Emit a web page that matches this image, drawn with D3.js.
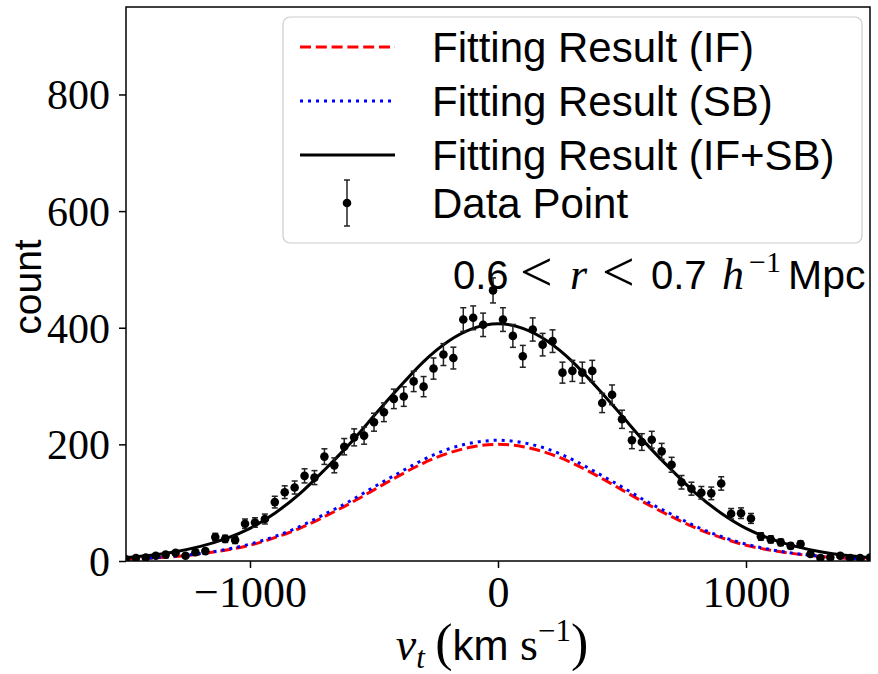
<!DOCTYPE html>
<html><head><meta charset="utf-8">
<script src="https://cdn.jsdelivr.net/npm/d3@7"></script>
<style>body{margin:0;background:#fff}</style>
</head><body>
<svg id="c" width="878" height="674"></svg>
<script>
// ---- data ----
const binCenters = [-1500,-1460,-1420,-1380,-1340,-1300,-1260,-1220,-1180,-1140,-1100,-1060,-1020,-980,-940,-900,-860,-820,-780,-740,-700,-660,-620,-580,-540,-500,-460,-420,-380,-340,-300,-260,-220,-180,-140,-100,-60,-20,20,60,100,140,180,220,260,300,340,380,420,460,500,540,580,620,660,700,740,780,820,860,900,940,980,1020,1060,1100,1140,1180,1220,1260,1300,1340,1380,1420,1460,1500];
const counts = [3,5,6,9,11,14,9,15,17,41,38,36,64,66,72,101,118,126,146,143,179,164,196,212,215,238,255,278,282,308,299,330,354,348,414,417,405,464,414,386,351,397,371,377,323,326,323,326,271,285,243,207,204,208,188,165,135,124,117,116,133,81,82,73,42,37,32,26,29,12,5,6,9,5,5,6];
const errors = [1.7,2.2,2.4,3.0,3.3,3.7,3.0,3.9,4.1,6.4,6.2,6.0,8.0,8.1,8.5,10.0,10.9,11.2,12.1,12.0,13.4,12.8,14.0,14.6,14.7,15.4,16.0,16.7,16.8,17.5,17.3,18.2,18.8,18.7,20.3,20.4,20.1,21.5,20.3,19.6,18.7,19.9,19.3,19.4,18.0,18.1,18.0,18.1,16.5,16.9,15.6,14.4,14.3,14.4,13.7,12.8,11.6,11.1,10.8,10.8,11.5,9.0,9.1,8.5,6.5,6.1,5.7,5.1,5.4,3.5,2.2,2.4,3.0,2.2,2.2,2.4];
const fitX = [-1500,-1400,-1300,-1200,-1100,-1000,-900,-800,-700,-600,-500,-400,-300,-200,-100,0,100,200,300,400,500,600,700,800,900,1000,1100,1200,1300,1400,1500];
const fitIF = [2.9,4.8,7.8,12.2,18.5,27,40,56,76,98,122,146,168,185,196,200,196,185,168,146,122,98,76,56,40,27,18.5,12.2,7.8,4.8,2.9];
const fitSB = [3.1,5.2,8.2,12.8,19.5,29,42,59,80,102,127,151,174,192,203,207,203,192,174,151,127,102,80,59,42,29,19.5,12.8,8.2,5.2,3.1];
const fitTotal = [6,10,16,25,38,56,82,115,156,200,249,297,342,377,399,407,399,377,342,297,249,200,156,115,82,56,38,25,16,10,6];
const xTicks = [-1000, 0, 1000];
const yTicks = [0, 200, 400, 600, 800];
const legendLabels = ["Fitting Result (IF)", "Fitting Result (SB)", "Fitting Result (IF+SB)", "Data Point"];

// ---- layout ----
const L = 126, R = 870, T = 7, B = 561;
const serif = "'Liberation Serif','DejaVu Serif',serif";
const sans = "'Liberation Sans','DejaVu Sans',sans-serif";
const svg = d3.select("#c");
const x = d3.scaleLinear().domain([-1500, 1500]).range([L, R]);
const y = d3.scaleLinear().domain([0, 950]).range([B, T]);

svg.append("defs").append("clipPath").attr("id", "clip")
  .append("rect").attr("x", L).attr("y", T).attr("width", R - L).attr("height", B - T);

const plot = svg.append("g").attr("clip-path", "url(#clip)");

const line = d3.line().x(d => x(d[0])).y(d => y(d[1])).curve(d3.curveNatural);
plot.append("path").datum(fitX.map((v, i) => [v, fitIF[i]]))
  .attr("d", line).attr("fill", "none").attr("stroke", "#ff0000")
  .attr("stroke-width", 3).attr("stroke-dasharray", "11,4.8");
plot.append("path").datum(fitX.map((v, i) => [v, fitSB[i]]))
  .attr("d", line).attr("fill", "none").attr("stroke", "#0000ff")
  .attr("stroke-width", 3).attr("stroke-dasharray", "3,5");
plot.append("path").datum(fitX.map((v, i) => [v, fitTotal[i]]))
  .attr("d", line).attr("fill", "none").attr("stroke", "#000")
  .attr("stroke-width", 3);

// error bars + points
const pts = binCenters.map((v, i) => ({x: v, c: counts[i], e: errors[i]}));
const eb = plot.append("g").attr("stroke", "#222").attr("stroke-width", 1.5);
pts.forEach(p => {
  eb.append("line").attr("x1", x(p.x)).attr("x2", x(p.x)).attr("y1", y(p.c - p.e)).attr("y2", y(p.c + p.e));
  eb.append("line").attr("x1", x(p.x) - 3).attr("x2", x(p.x) + 3).attr("y1", y(p.c - p.e)).attr("y2", y(p.c - p.e));
  eb.append("line").attr("x1", x(p.x) - 3).attr("x2", x(p.x) + 3).attr("y1", y(p.c + p.e)).attr("y2", y(p.c + p.e));
});
plot.append("g").selectAll("circle").data(pts).join("circle")
  .attr("cx", d => x(d.x)).attr("cy", d => y(d.c)).attr("r", 4.3).attr("fill", "#000");

// frame
svg.append("rect").attr("x", L).attr("y", T).attr("width", R - L).attr("height", B - T)
  .attr("fill", "none").attr("stroke", "#000").attr("stroke-width", 1.5);

// axes
const xAxis = svg.append("g").attr("transform", `translate(0,${B})`)
  .call(d3.axisBottom(x).tickValues(xTicks).tickSize(7).tickPadding(8)
    .tickFormat(d => d < 0 ? "\u2212" + Math.abs(d) : String(d)));
xAxis.select(".domain").remove();
xAxis.selectAll("line").attr("stroke", "#000").attr("stroke-width", 1.5);
xAxis.selectAll("text").attr("font-family", serif).attr("font-size", 44).attr("fill", "#000").attr("dy", "0.7em");

const yAxis = svg.append("g").attr("transform", `translate(${L},0)`)
  .call(d3.axisLeft(y).tickValues(yTicks).tickSize(7).tickPadding(9));
yAxis.select(".domain").remove();
yAxis.selectAll("line").attr("stroke", "#000").attr("stroke-width", 1.5);
yAxis.selectAll("text").attr("font-family", serif).attr("font-size", 42).attr("fill", "#000").attr("dy", "0.34em");

// axis labels
svg.append("text").attr("transform", "translate(41,287) rotate(-90)")
  .attr("text-anchor", "middle").attr("font-family", sans).attr("font-size", 39).text("count");

const xl = svg.append("text").attr("x", 492).attr("y", 660).attr("text-anchor", "middle")
  .attr("font-size", 46).attr("font-family", serif);
xl.append("tspan").attr("font-style", "italic").text("v");
xl.append("tspan").attr("font-style", "italic").attr("font-size", 31).attr("dy", 8).text("t");
xl.append("tspan").attr("dy", -8).attr("font-size", 52).text("\u2009(");
xl.append("tspan").attr("font-family", sans).attr("font-size", 42).text("km");
xl.append("tspan").text(" s");
xl.append("tspan").attr("font-size", 31).attr("dy", -19).text("\u22121");
xl.append("tspan").attr("dy", 19).attr("font-size", 52).text(")");

// annotation (pieces positioned like the LaTeX layout)
const anY = 289;
const ann = svg.append("g");
const piece = (t, px, opts) => {
  const e = ann.append("text").attr("x", px).attr("y", anY + (opts.dy || 0))
    .attr("font-family", opts.f).attr("font-size", opts.s).attr("fill", "#000").text(t);
  if (opts.it) e.attr("font-style", "italic");
};
piece("0.6", 453, {f: sans, s: 40});
piece("<", 520, {f: serif, s: 58, dy: 2});
piece("r", 570, {f: serif, s: 44, it: true});
piece("<", 602, {f: serif, s: 58, dy: 2});
piece("0.7", 651, {f: sans, s: 40});
piece("h", 722, {f: serif, s: 44, it: true});
piece("\u22121", 749, {f: serif, s: 30, dy: -17});
piece("Mpc", 788, {f: sans, s: 41});

// legend
const lg = svg.append("g");
lg.append("rect").attr("x", 283).attr("y", 17).attr("width", 579).attr("height", 226)
  .attr("rx", 7).attr("fill", "#fff").attr("fill-opacity", 0.8).attr("stroke", "#ccc").attr("stroke-width", 1.2);
const rowY = [47, 101, 155, 203];
lg.append("line").attr("x1", 300).attr("x2", 395).attr("y1", rowY[0]).attr("y2", rowY[0])
  .attr("stroke", "#ff0000").attr("stroke-width", 3).attr("stroke-dasharray", "11,4.8");
lg.append("line").attr("x1", 300).attr("x2", 395).attr("y1", rowY[1]).attr("y2", rowY[1])
  .attr("stroke", "#0000ff").attr("stroke-width", 3).attr("stroke-dasharray", "3,5");
lg.append("line").attr("x1", 300).attr("x2", 395).attr("y1", rowY[2]).attr("y2", rowY[2])
  .attr("stroke", "#000").attr("stroke-width", 3);
lg.append("line").attr("x1", 347).attr("x2", 347).attr("y1", rowY[3] - 23).attr("y2", rowY[3] + 23)
  .attr("stroke", "#222").attr("stroke-width", 1.5);
[-23, 23].forEach(o => lg.append("line").attr("x1", 344).attr("x2", 350)
  .attr("y1", rowY[3] + o).attr("y2", rowY[3] + o).attr("stroke", "#222").attr("stroke-width", 1.5));
lg.append("circle").attr("cx", 347).attr("cy", rowY[3]).attr("r", 4.3).attr("fill", "#000");
legendLabels.forEach((t, i) => {
  lg.append("text").attr("x", 432).attr("y", rowY[i]).attr("dy", "0.36em")
    .attr("font-family", sans).attr("font-size", 42).attr("fill", "#000").text(t);
});
</script>
</body></html>
